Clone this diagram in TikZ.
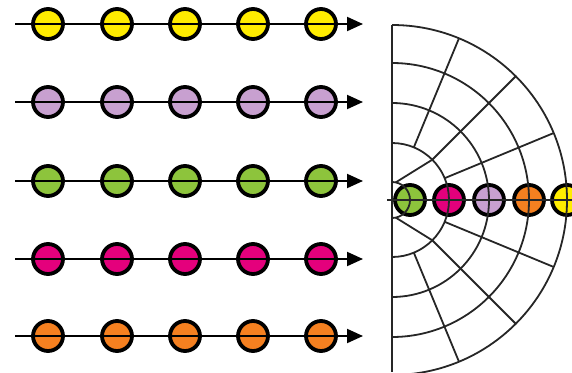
\documentclass[tikz,border=0pt]{standalone}
\usetikzlibrary{arrows.meta,calc}
\definecolor{dotyellow}{RGB}{255,236,0}
\definecolor{dotlilac}{RGB}{200,160,208}
\definecolor{dotgreen}{RGB}{141,196,60}
\definecolor{dotmagenta}{RGB}{228,0,124}
\definecolor{dotorange}{RGB}{245,128,32}
\begin{document}
\begin{tikzpicture}[x=1pt, y=-1pt,
  dot/.style={circle, draw=black, line width=3.8pt, minimum size=30pt, inner sep=0pt},
  ray/.style={line width=2pt, -{Triangle[length=16pt,width=14pt]}},
  web/.style={line width=1.8pt, black!85}]
  \useasboundingbox (0,0) rectangle (572,372);
  % left: five rows of dots on arrows
  \foreach \row/\y/\col in {a/24/dotyellow, b/102/dotlilac, c/181/dotgreen, d/259/dotmagenta, e/336/dotorange} {
    \foreach \i/\x in {1/48,2/117,3/185,4/253,5/321}
      \node[dot, fill=\col] (\row\i) at (\x,\y) {};
    \coordinate (\row s) at (15,\y);
    \coordinate (\row t) at (363,\y);
    \draw[ray] (\row s) -- (\row t);
  }
  % right: dots on the half discs
  \coordinate (o) at (392,200);
  \foreach \n/\r/\col in {f1/18/dotgreen, f2/57/dotmagenta, f3/97/dotlilac, f4/137/dotorange, f5/175/dotyellow}
    \node[dot, fill=\col] (\n) at ($(o)+(\r,0)$) {};
  \foreach \r in {18,57,97,137,175}
    \draw[web] (o) ++(90:\r) arc[start angle=90, end angle=-90, radius=\r];
  \foreach \a in {22.5,45,67.5,-22.5,-45,-67.5}
    \draw[web] (o) ++(\a:57) -- ++(\a:118);
  \foreach \s in {1,-1}
    \draw[web] ($(o)+(\s*78:18)$) -- ($(o)+(\s*45:57)$);
  \coordinate (top) at (392,25);
  \coordinate (bot) at (392,372);
  \coordinate (axl) at (387,200);
  \coordinate (axr) at (572,200);
  \draw[web] (top) -- (bot);
  \draw[web] (axl) -- (axr);
\end{tikzpicture}
\end{document}
